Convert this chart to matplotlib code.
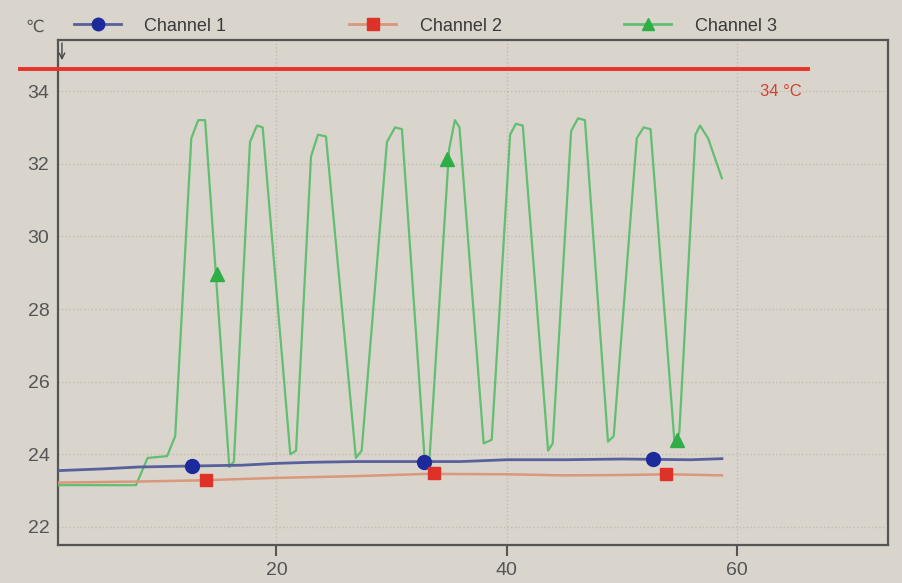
import numpy as np
import matplotlib
matplotlib.use('Agg')
import matplotlib.pyplot as plt
from matplotlib.lines import Line2D

plt.rcParams['font.family'] = ['Liberation Sans', 'DejaVu Sans']

# channel 1 (blue) - slowly rising baseline
ch1_x = [1, 5, 8, 13, 17, 20, 23, 27, 30, 33, 36, 40, 45, 50, 53, 56, 58.7]
ch1_y = [23.55, 23.6, 23.65, 23.68, 23.7, 23.75, 23.78, 23.8, 23.8, 23.8, 23.8,
         23.85, 23.85, 23.87, 23.86, 23.85, 23.88]
ch1_mx = [12.7, 32.8, 52.7]
ch1_my = [23.67, 23.8, 23.86]

# channel 2 (red)
ch2_x = [1, 8, 13, 20, 27, 33, 40, 45, 50, 54, 58.7]
ch2_y = [23.22, 23.25, 23.28, 23.35, 23.4, 23.46, 23.45, 23.42, 23.43, 23.45, 23.42]
ch2_mx = [13.9, 33.7, 53.8]
ch2_my = [23.29, 23.48, 23.45]

# channel 3 (green) - oscillating
ch3_x = [1, 7.8, 8.8, 10.5, 11.2, 12.6, 13.2, 13.8, 15.9, 16.3, 17.7, 18.3, 18.8,
         21.2, 21.7, 23.0, 23.6, 24.3, 26.9, 27.4, 29.6, 30.3, 30.9, 32.9, 33.3,
         35.0, 35.5, 35.9, 38.0, 38.7, 40.3, 40.8, 41.4, 43.6, 44.0, 45.6, 46.2,
         46.8, 48.8, 49.3, 51.3, 51.9, 52.5, 54.6, 55.0, 56.4, 56.8, 57.5, 58.7]
ch3_y = [23.15, 23.15, 23.9, 23.95, 24.5, 32.7, 33.2, 33.2, 23.65, 23.8, 32.6, 33.05,
         33.0, 24.0, 24.1, 32.2, 32.8, 32.75, 23.9, 24.1, 32.6, 33.0, 32.95, 23.75,
         23.9, 32.4, 33.2, 33.0, 24.3, 24.4, 32.8, 33.1, 33.05, 24.1, 24.3, 32.9,
         33.25, 33.2, 24.35, 24.5, 32.7, 33.0, 32.95, 24.25, 24.6, 32.8, 33.05, 32.7,
         31.6]
ch3_mx = [14.8, 34.8, 54.8]
ch3_my = [28.96, 32.14, 24.38]

limit = 34.6
limit_label = "34 \u00b0C"

bg = '#d9d5cc'
c1_line, c1_mark = '#56609a', '#1c2a9c'
c2_line, c2_mark = '#d9977c', '#de3128'
c3_line, c3_mark = '#62be70', '#2fae48'

fig = plt.figure(figsize=(9.03, 5.83), dpi=100, facecolor=bg)
ax = fig.add_axes([0.064, 0.065, 0.919, 0.866], facecolor=bg)

ax.plot(ch3_x, ch3_y, color=c3_line, lw=1.6, zorder=3)
ax.plot(ch2_x, ch2_y, color=c2_line, lw=1.8, zorder=3)
ax.plot(ch1_x, ch1_y, color=c1_line, lw=2.0, zorder=3)
ax.plot(ch1_mx, ch1_my, 'o', color=c1_mark, ms=10, zorder=4)
ax.plot(ch2_mx, ch2_my, 's', color=c2_mark, ms=9, zorder=4)
ax.plot(ch3_mx, ch3_my, '^', color=c3_mark, ms=10, zorder=4)

# alarm line, runs past the left axis
ax.plot([-2.3, 66.2], [limit, limit], color='#e8322a', lw=2.8, clip_on=False, zorder=5)
ax.text(63.8, 34.0, limit_label, color='#d2402f', fontsize=12, ha='center', va='center')

ax.set_xlim(1, 73.1)
ax.set_ylim(21.5, 35.4)
ax.set_xticks([20, 40, 60])
ax.set_yticks([22, 24, 26, 28, 30, 32, 34])
ax.tick_params(axis='x', direction='out', length=8, width=1.5, color='#555555',
               labelsize=14, labelcolor='#555555', pad=4)
ax.tick_params(axis='y', length=0, labelsize=14, labelcolor='#555555', pad=6)
ax.grid(True, ls=':', color='#c2bdb3', lw=1.0)
for s in ax.spines.values():
    s.set_color('#555555')
    s.set_linewidth(1.6)

# legend across the top
handles = [Line2D([], [], color=c1_line, lw=2, marker='o', mfc=c1_mark, mec=c1_mark, ms=9),
           Line2D([], [], color=c2_line, lw=2, marker='s', mfc=c2_mark, mec=c2_mark, ms=8),
           Line2D([], [], color=c3_line, lw=2, marker='^', mfc=c3_mark, mec=c3_mark, ms=9)]
leg = fig.legend(handles, ['Channel 1', 'Channel 2', 'Channel 3'], ncol=3,
                 loc='center left', bbox_to_anchor=(0.064, 0.955), frameon=False,
                 fontsize=13, handlelength=2.6, columnspacing=6.8, handletextpad=1.3)
for t in leg.get_texts():
    t.set_color('#3a3a3a')

fig.text(0.038, 0.953, '\u2103', fontsize=12, color='#555555', ha='center', va='center')
ax.annotate('', xy=(0.005, 0.955), xytext=(0.005, 1.0), xycoords='axes fraction',
            arrowprops=dict(arrowstyle='->', color='#444444', lw=1))

fig.savefig('out.png', dpi=100, facecolor=bg)
